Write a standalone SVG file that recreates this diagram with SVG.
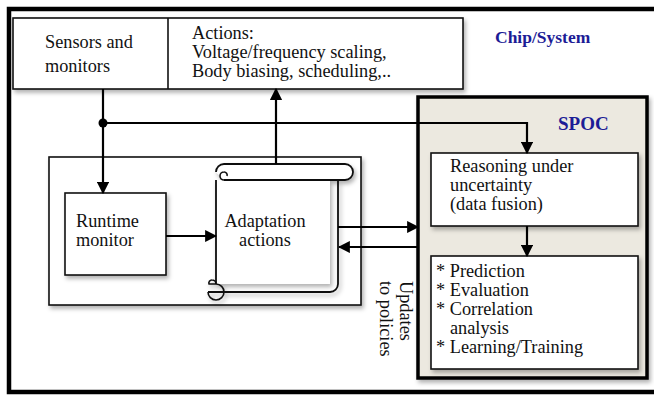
<svg xmlns="http://www.w3.org/2000/svg" width="654" height="399" viewBox="0 0 654 399">
<style>
  .t { font-family: "Liberation Serif", "Times New Roman", serif; font-size: 18.3px; fill: #111; }
  .b { font-family: "Liberation Serif", "Times New Roman", serif; font-weight: bold; fill: #1c1c96; }
  .box { fill: #fff; stroke: #111; stroke-width: 1.6; }
  .ln { fill: none; stroke: #000; stroke-width: 2.2; }
</style>
<defs>
  <filter id="sh" x="-10%" y="-10%" width="130%" height="130%">
    <feDropShadow dx="2" dy="3" stdDeviation="2" flood-color="#000" flood-opacity="0.3"/>
  </filter>
  <marker id="ah" viewBox="0 0 10 10" refX="9" refY="5" markerWidth="5.5" markerHeight="5.5" orient="auto" markerUnits="strokeWidth">
    <path d="M0,0 L10,5 L0,10 z" fill="#000"/>
  </marker>
</defs>
<rect width="654" height="399" fill="#fff"/>

<g id="frame">
  <rect x="9" y="9" width="670" height="383" fill="none" stroke="#000" stroke-width="4.5"/>
  <text class="b" x="495" y="43" font-size="17.5">Chip/System</text>
</g>

<g id="top-box">
  <rect class="box" x="13" y="18" width="450" height="71" filter="url(#sh)"/>
  <line x1="168" y1="18" x2="168" y2="89" stroke="#111" stroke-width="1.6"/>
  <text class="t" x="45" y="48">Sensors and</text>
  <text class="t" x="45" y="72">monitors</text>
  <text class="t" x="192" y="39">Actions:</text>
  <text class="t" x="192" y="58">Voltage/frequency scaling,</text>
  <text class="t" x="192" y="77">Body biasing, scheduling,..</text>
</g>

<g id="adaptation-container">
  <rect class="box" x="49" y="157" width="312" height="148" filter="url(#sh)"/>
</g>

<g id="runtime-monitor">
  <rect class="box" x="65" y="193" width="101" height="82" filter="url(#sh)"/>
  <text class="t" x="76" y="227">Runtime</text>
  <text class="t" x="76" y="246">monitor</text>
</g>

<g id="adaptation-actions">
  <g filter="url(#sh)">
    <path d="M216,180 V284 H330 V180 Z" fill="#fff" stroke="none"/>
    <path d="M216,180 V284 M208,292 H330 A8,8 0 0 0 338,284 V180" fill="none" stroke="#111" stroke-width="1.8"/>
    <path d="M224,180 H345 A8,8 0 0 0 345,164 H224 A8,8 0 0 0 216,172" fill="#fff" stroke="#111" stroke-width="1.8"/>
    <path d="M224,180 A4,4 0 0 1 224,172 A3,3 0 0 1 227,176" fill="none" stroke="#111" stroke-width="1.6"/>
    <path d="M216,284 A8,8 0 1 1 208,292 M216,284 A4,4 0 0 0 212,280 A3,3 0 0 0 209,284 H216" fill="none" stroke="#111" stroke-width="1.6"/>
  </g>
  <text class="t" x="265" y="227" text-anchor="middle" font-size="15.5">Adaptation</text>
  <text class="t" x="265" y="246" text-anchor="middle" font-size="15.5">actions</text>
</g>

<g id="spoc">
  <rect x="418" y="97" width="229" height="281" fill="#ece9e0" stroke="#000" stroke-width="3.5" filter="url(#sh)"/>
  <text class="b" x="558" y="130" font-size="19">SPOC</text>
</g>

<g id="reasoning">
  <rect class="box" x="431" y="153" width="207" height="73" filter="url(#sh)"/>
  <text class="t" x="450" y="172">Reasoning under</text>
  <text class="t" x="450" y="191">uncertainty</text>
  <text class="t" x="450" y="210">(data fusion)</text>
</g>

<g id="analysis">
  <rect class="box" x="431" y="256" width="207" height="113" filter="url(#sh)"/>
  <text class="t" x="436" y="277">* Prediction</text>
  <text class="t" x="436" y="296">* Evaluation</text>
  <text class="t" x="436" y="315">* Correlation</text>
  <text class="t" x="450" y="334">analysis</text>
  <text class="t" x="436" y="353">* Learning/Training</text>
</g>

<g id="connectors">
  <line class="ln" x1="103" y1="89" x2="103" y2="193" marker-end="url(#ah)"/>
  <circle cx="103" cy="123" r="4.5" fill="#000"/>
  <path class="ln" d="M103,123 H527 V153" marker-end="url(#ah)"/>
  <line class="ln" x1="276" y1="164" x2="276" y2="89" marker-end="url(#ah)"/>
  <line class="ln" x1="166" y1="236" x2="216" y2="236" marker-end="url(#ah)"/>
  <line class="ln" x1="338" y1="227" x2="418" y2="227" marker-end="url(#ah)"/>
  <line class="ln" x1="418" y1="247" x2="339" y2="247" marker-end="url(#ah)"/>
  <line class="ln" x1="527" y1="226" x2="527" y2="256" marker-end="url(#ah)"/>
  <g transform="translate(400,281) rotate(90)">
    <text class="t" x="0" y="0">Updates</text>
    <text class="t" x="0" y="20">to policies</text>
  </g>
</g>
</svg>
